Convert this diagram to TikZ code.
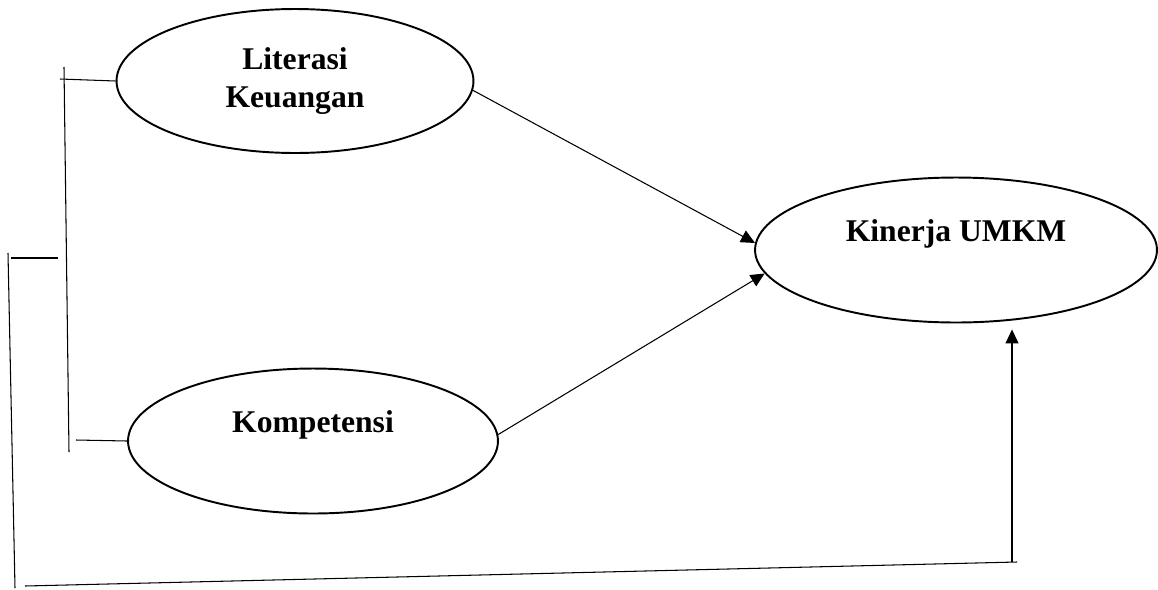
\documentclass[tikz,border=0pt]{standalone}
\usepackage{fontspec}
\setmainfont{Liberation Serif}
\usetikzlibrary{positioning, shapes, arrows.meta, calc}

\begin{document}
\begin{tikzpicture}[x=0.02cm, y=-0.02cm,
    var/.style={draw, ellipse, line width=1.1pt, inner sep=0pt, align=center,
      font=\fontsize{18}{22}\selectfont\bfseries},
    link/.style={line width=0.6pt},
    arr/.style={link, -{Triangle[length=0.28cm, width=0.26cm]}}]
      \useasboundingbox (0,0) rectangle (1158,589);

      \node[var, minimum width=7.14cm, minimum height=2.88cm] (lit) at (295,81) {Literasi\\Keuangan};
      \node[var, minimum width=7.4cm, minimum height=2.9cm] (komp) at (313,441) {Kompetensi\\ \mbox{}};
      \node[var, minimum width=8.04cm, minimum height=2.9cm] (kinerja) at (956,250) {Kinerja UMKM\\ \mbox{}};

      % bracket on the left
      \draw[link] (64,67) -- (69,452);
      \draw[link] (60,79) -- (lit.west);
      \draw[link] (76,440) -- (komp.west);
      \draw[link] (11,258) -- (58,258);
      \draw[link] (8,253) -- (15,588);

      \coordinate (corner) at (1012,562);
      \draw[link] (25,586) -- (1017,562);
      \draw[arr, shorten >=0.12cm] (corner) -- (corner |- kinerja.south);

      \draw[arr] (lit.357) -- (kinerja.178);
      \draw[arr] (komp.2) -- (kinerja.187);
    \end{tikzpicture}
\end{document}
